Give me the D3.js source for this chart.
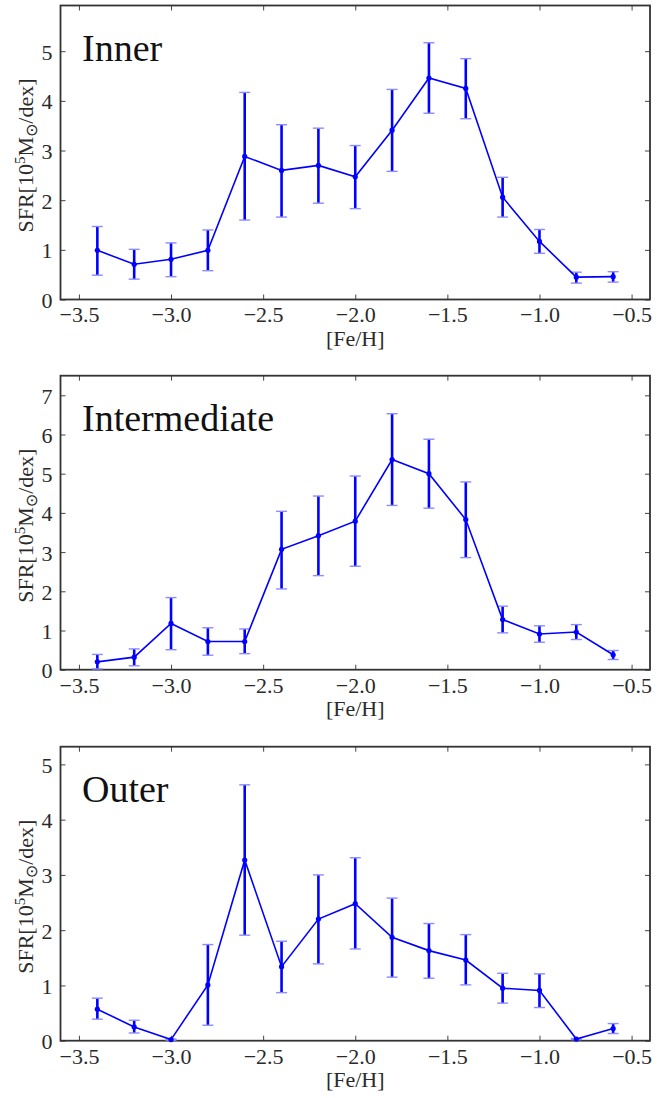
<!DOCTYPE html>
<html><head><meta charset="utf-8">
<script src="https://cdn.jsdelivr.net/npm/d3@7"></script>
<style>body{margin:0;background:#fff}svg{display:block}
svg text{font-family:"Liberation Serif","DejaVu Serif",serif;}
</style>
</head><body>
<svg id="c" width="668" height="1098"></svg>
<script>
// ---- data ----
const feh = [-3.4,-3.2,-3.0,-2.8,-2.6,-2.4,-2.2,-2.0,-1.8,-1.6,-1.4,-1.2,-1.0,-0.8,-0.6];
const panelNames = ["Inner","Intermediate","Outer"];
const innerSFR   = [0.99,0.71,0.81,0.99,2.88,2.60,2.70,2.47,3.41,4.46,4.25,2.06,1.17,0.45,0.46];
const innerHigh  = [1.47,1.01,1.14,1.40,4.17,3.52,3.45,3.10,4.23,5.17,4.85,2.46,1.41,0.55,0.56];
const innerLow   = [0.49,0.41,0.46,0.58,1.60,1.66,1.94,1.83,2.58,3.75,3.64,1.66,0.93,0.33,0.35];
const interSFR   = [0.20,0.32,1.18,0.72,0.72,3.07,3.42,3.79,5.36,5.00,3.83,1.28,0.91,0.96,0.38];
const interHigh  = [0.39,0.53,1.84,1.07,1.04,4.04,4.43,4.94,6.53,5.88,4.79,1.62,1.12,1.15,0.49];
const interLow   = [0.02,0.10,0.51,0.37,0.41,2.06,2.40,2.64,4.19,4.12,2.86,0.94,0.70,0.77,0.26];
const outerSFR   = [0.57,0.25,0.02,1.01,3.27,1.34,2.20,2.48,1.87,1.63,1.46,0.95,0.91,0.03,0.22];
const outerHigh  = [0.77,0.37,0.03,1.74,4.63,1.80,3.00,3.31,2.58,2.12,1.92,1.22,1.21,0.04,0.31];
const outerLow   = [0.39,0.14,0.01,0.28,1.91,0.87,1.39,1.66,1.15,1.13,1.01,0.68,0.60,0.02,0.13];
const yTop       = [5.92, 7.5, 5.32];
const yTickMax   = [5, 7, 5];
const xTicks     = [-3.5,-3.0,-2.5,-2.0,-1.5,-1.0,-0.5];
const xDomain    = [-3.6,-0.4];

const series = [
  {v: innerSFR, hi: innerHigh, lo: innerLow},
  {v: interSFR, hi: interHigh, lo: interLow},
  {v: outerSFR, hi: outerHigh, lo: outerLow}
];

// ---- layout ----
const svg = d3.select("#c");
const L = 60.5, R = 650, H = 294;
const tops = [5.5, 375.7, 746.7];
const blue = "#0000ff";

panelNames.forEach((name, i) => {
  const g = svg.append("g").attr("transform", `translate(0,${tops[i]})`);
  const x = d3.scaleLinear().domain(xDomain).range([L, R]);
  const y = d3.scaleLinear().domain([0, yTop[i]]).range([H, 0]);
  const yt = d3.range(0, yTickMax[i] + 1);

  const fmtX = d => (d < 0 ? "\u2212" : "") + Math.abs(d).toFixed(1);
  const axB = d3.axisBottom(x).tickValues(xTicks).tickSizeInner(-5).tickSizeOuter(0).tickPadding(7).tickFormat(fmtX);
  const axT = d3.axisTop(x).tickValues(xTicks).tickSizeInner(-5).tickSizeOuter(0).tickFormat("");
  const axL = d3.axisLeft(y).tickValues(yt).tickSizeInner(-5).tickSizeOuter(0).tickPadding(8).tickFormat(d3.format("d"));
  const axR = d3.axisRight(y).tickValues(yt).tickSizeInner(-5).tickSizeOuter(0).tickFormat("");

  const style = sel => {
    sel.attr("font-family", null).attr("font-size", null);
    sel.select(".domain").remove();
    sel.selectAll(".tick line").attr("stroke", "#444").attr("stroke-width", 1);
    sel.selectAll(".tick text").style("font-size", "22px").attr("fill", "#2a2a2a");
  };
  g.append("g").attr("transform", `translate(0,${H})`).call(axB).call(style)
    .selectAll(".tick text").attr("dy", "0.72em");
  g.append("g").call(axT).call(style);
  g.append("g").attr("transform", `translate(${L},0)`).call(axL).call(style)
    .selectAll(".tick text").attr("dy", "0.36em");
  g.append("g").attr("transform", `translate(${R},0)`).call(axR).call(style);

  g.append("rect").attr("x", L).attr("y", 0).attr("width", R - L).attr("height", H)
    .attr("fill", "none").attr("stroke", "#333").attr("stroke-width", 1.8);

  const s = series[i];
  const pts = feh.map((f, k) => ({f, v: s.v[k], hi: s.hi[k], lo: s.lo[k]}));

  const eb = g.append("g");
  eb.selectAll("line.bar").data(pts).join("line").attr("class", "bar")
    .attr("x1", d => x(d.f)).attr("x2", d => x(d.f))
    .attr("y1", d => y(d.hi)).attr("y2", d => y(d.lo))
    .attr("stroke", blue).attr("stroke-width", 2.6);
  ["hi", "lo"].forEach(key => {
    eb.selectAll("line.cap" + key).data(pts).join("line").attr("class", "cap" + key)
      .attr("x1", d => x(d.f) - 5.5).attr("x2", d => x(d.f) + 5.5)
      .attr("y1", d => y(d[key])).attr("y2", d => y(d[key]))
      .attr("stroke", "#8c8cff").attr("stroke-width", 1.4);
  });

  g.append("path").datum(pts)
    .attr("d", d3.line().x(d => x(d.f)).y(d => y(d.v)))
    .attr("fill", "none").attr("stroke", blue).attr("stroke-width", 1.6);
  g.selectAll("circle").data(pts).join("circle")
    .attr("cx", d => x(d.f)).attr("cy", d => y(d.v)).attr("r", 2.6).attr("fill", blue);

  g.append("text").attr("x", 82).attr("y", 55.5).text(name)
    .style("font-size", "38px").attr("fill", "#111");

  g.append("text").attr("x", (L + R) / 2).attr("y", H + 46).attr("text-anchor", "middle")
    .style("font-size", "22px").attr("fill", "#2a2a2a").text("[Fe/H]");

  const yl = g.append("text").attr("transform", `translate(33,${H / 2 + 3}) rotate(-90)`)
    .attr("text-anchor", "middle").style("font-size", "22px").attr("fill", "#2a2a2a");
  yl.append("tspan").text("SFR[10");
  yl.append("tspan").attr("dy", -8).style("font-size", "15px").text("5");
  yl.append("tspan").attr("dy", 8).text("M");
  yl.append("tspan").attr("dy", 4).style("font-size", "16px").style("font-family", "'DejaVu Sans',sans-serif").text("\u2299");
  yl.append("tspan").attr("dy", -4).text("/dex]");
});
</script>
</body></html>
